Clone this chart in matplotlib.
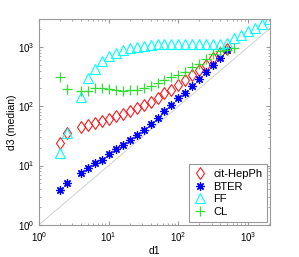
import numpy as np
import matplotlib
matplotlib.use("Agg")
import matplotlib.pyplot as plt

plt.rcParams['font.family'] = ['Liberation Sans', 'DejaVu Sans']

# bin exponents (d1 = 10^(k/10))
k_main = [3, 4, 6, 7, 8, 9, 10, 11, 12, 13, 14, 15, 16, 17, 18, 19, 20,
          21, 22, 23, 24, 25, 26, 27]
k_ff = k_main + [28, 29, 30, 31, 32, 33]
k_cl = k_main + [28]

hepph = [24, 35, 44, 49, 53, 57, 62, 68, 74, 82, 92, 105, 120, 140, 165,
         190, 230, 280, 340, 410, 500, 640, 790, 930]
bter = [3.9, 5.0, 7.5, 9.1, 11, 12.5, 15.7, 19, 22, 27, 33, 40, 50, 64, 83,
        106, 135, 170, 220, 290, 380, 500, 660, 880]
ff = [16, 35, 145, 300, 420, 570, 690, 800, 890, 950, 1000, 1040, 1080,
      1100, 1100, 1100, 1100, 1100, 1100, 1100, 1100, 1100, 1100, 1150,
      1400, 1600, 1850, 2100, 2400, 2900]
cl = [310, 195, 180, 180, 205, 200, 195, 185, 180, 185, 190, 205, 220, 250,
      280, 310, 340, 380, 450, 520, 620, 750, 850, 900, 960]

def d1(ks):
    return 10 ** (np.array(ks) / 10.0)

fig = plt.figure(figsize=(2.99, 2.57), dpi=100)
ax = fig.add_axes([0.130, 0.125, 0.773, 0.801])

ax.plot([1, 3000], [1, 3000], color='#d0d0d0', lw=0.7, zorder=1)
ax.plot(d1(k_main), hepph, ls='none', marker='d', mfc='none', mec='red',
        ms=6, mew=0.7, label='cit-HepPh')
ax.plot(d1(k_main), bter, ls='none', marker=(8, 2, 0), color='blue',
        ms=6, mew=0.9, label='BTER')
ax.plot(d1(k_ff), ff, ls='none', marker='^', mfc='none', mec='cyan',
        ms=7, mew=0.8, label='FF')
ax.plot(d1(k_cl), cl, ls='none', marker='+', color='#33dd33',
        ms=7, mew=0.9, label='CL')

ax.set_xscale('log')
ax.set_yscale('log')
ax.set_xlim(1, 2050)
ax.set_ylim(1, 2950)

for s in ax.spines.values():
    s.set_color('#999999')
    s.set_linewidth(0.8)
ax.tick_params(which='both', direction='in', top=True, right=True,
               color='#999999', labelsize=7)
ax.tick_params(axis='x', pad=4)
ax.tick_params(axis='y', pad=3)
ax.tick_params(which='major', length=3)
ax.tick_params(which='minor', length=1.6)

ax.set_xlabel('d1', fontsize=7.5, labelpad=1)
ax.set_ylabel('d3 (median)', fontsize=7.5, labelpad=1)

leg = ax.legend(loc='lower right', fontsize=8, fancybox=False,
                framealpha=1, edgecolor='#999999', borderaxespad=0.3,
                handlelength=1.2, handletextpad=0.6, labelspacing=0.25,
                borderpad=0.4)
leg.get_frame().set_linewidth(0.8)

fig.savefig('out.png', dpi=100)
